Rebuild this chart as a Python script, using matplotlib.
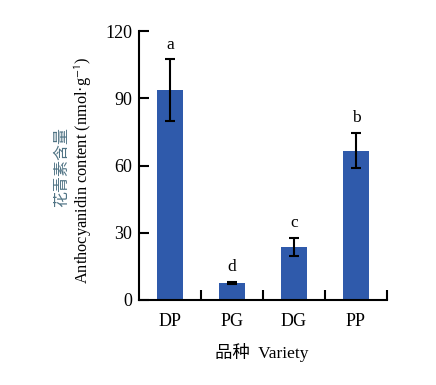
import numpy as np
import matplotlib
matplotlib.use("Agg")
import matplotlib.pyplot as plt

plt.rcParams['font.family'] = ['Liberation Serif', 'Noto Sans CJK SC']
plt.rcParams['mathtext.fontset'] = 'stix'

# Dados
variedades = ['DP', 'PG', 'DG', 'PP']
valores = [93.7, 7.6, 23.6, 66.6]
erros = [13.7, 0.6, 4.0, 7.8]
letras = ['a', 'd', 'c', 'b']

cor_barra = '#2f5aab'

fig = plt.figure(figsize=(4.36, 3.85), dpi=100)
ax = fig.add_axes([139/436, 1 - 300/385, 248/436, 269/385])

x = np.arange(len(variedades))
ax.bar(x, valores, width=0.42, color=cor_barra, zorder=2)
ax.errorbar(x, valores, yerr=erros, fmt='none', ecolor='black',
            elinewidth=1.5, capsize=3.6, capthick=1.5, zorder=3)

# letras de significancia
for xi, v, e, l in zip(x, valores, erros, letras):
    ax.text(xi, v + e + 3.0, l, ha='center', va='bottom', fontsize=12.5)

ax.set_xlim(-0.5, 3.5)
ax.set_ylim(0, 120)
ax.set_yticks([0, 30, 60, 90, 120])
ax.set_xticks(x)
ax.set_xticklabels(variedades)
ax.set_xticks(list(x + 0.5), minor=True)

ax.spines['top'].set_visible(False)
ax.spines['right'].set_visible(False)
for s in ['left', 'bottom']:
    ax.spines[s].set_linewidth(1.5)

ax.tick_params(axis='y', direction='in', length=7, width=1.5, labelsize=13, pad=5)
ax.tick_params(axis='x', which='major', length=0, labelsize=13, pad=9)
ax.tick_params(axis='x', which='minor', direction='in', length=7, width=1.5)

fig.text(62/436, 1 - 167/385, '花青素含量', rotation=90, ha='center', va='center',
         fontsize=11.5, color='#4f7384', family=['Noto Sans CJK SC'])
fig.text(83/436, 1 - 170/385, r'Anthocyanidin content (nmol·g$^{\mathsf{-1}}$)', rotation=90,
         ha='center', va='center', fontsize=11.8)
fig.text(262/436, 1 - 352/385, '品种  Variety', ha='center', va='center', fontsize=12.5)

fig.savefig('out.png', dpi=100)
